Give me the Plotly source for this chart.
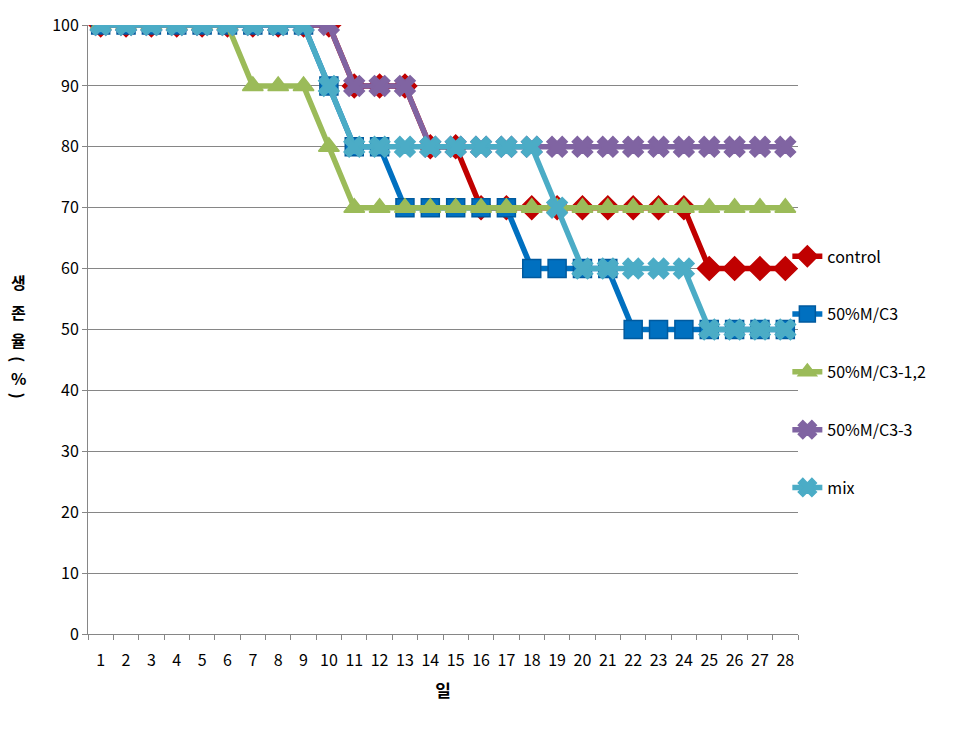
import plotly.graph_objects as go

days = [str(d) for d in range(1, 29)]
control = [100]*10 + [90]*3 + [80]*2 + [70]*9 + [60]*4
m_c3 = [100]*9 + [90] + [80]*2 + [70]*5 + [60]*4 + [50]*7
m_c3_12 = [100]*6 + [90]*3 + [80] + [70]*18
m_c3_3 = [100]*10 + [90]*3 + [80]*15
mix = [100]*9 + [90] + [80]*8 + [70] + [60]*5 + [50]*4

series = [
    ("control", control, "#C00000", "diamond", "#C00000"),
    ("50%M/C3", m_c3, "#0070C0", "square", "#005A9E"),
    ("50%M/C3-1,2", m_c3_12, "#9BBB59", "triangle-up", "#9BBB59"),
    ("50%M/C3-3", m_c3_3, "#8064A2", "x", "#8064A2"),
    ("mix", mix, "#4BACC6", "x", "#4BACC6"),
]

fig = go.Figure()
for i, (name, vals, col, sym, lcol) in enumerate(series):
    fig.add_trace(go.Scatter(
        x=days, y=vals, name=name, mode="lines+markers",
        line=dict(color=col, width=5.5),
        marker=dict(symbol=sym, size=18, color=col, line=dict(color=lcol, width=1.5)),
        legendgroup=f"g{i}",
    ))

font = "Noto Sans CJK KR, Malgun Gothic, sans-serif"
fig.update_layout(
    width=960, height=738,
    margin=dict(l=88, r=162, t=18, b=104),
    plot_bgcolor="white", paper_bgcolor="white",
    font=dict(family=font, size=16, color="black"),
    showlegend=True,
    legend=dict(x=0.985, xanchor="left", y=0.648, yanchor="top",
                tracegroupgap=34, font=dict(size=16, family=font),
                bgcolor="rgba(0,0,0,0)", itemwidth=30),
    xaxis=dict(type="category", showline=True, linecolor="#868686", linewidth=1,
               ticks="outside", ticklen=5, tickcolor="#868686", tickson="boundaries",
               showgrid=False, tickfont=dict(size=16), tickangle=0, range=[-0.5, 27.5],
               ticklabelstandoff=12,
               title=dict(text="<b>일</b>", font=dict(size=17), standoff=14)),
    yaxis=dict(range=[0, 100], dtick=10, showline=True, linecolor="#868686", linewidth=1,
               ticks="outside", ticklen=5, tickcolor="#868686",
               showgrid=True, gridcolor="#868686", gridwidth=1,
               tickfont=dict(size=16), zeroline=False),
)

title_chars = [("생", 278, 0), ("존", 308, 0), ("율", 337, 0), ("(", 356, 90), ("%", 375, 0), (")", 393, 90)]
for ch, py, ang in title_chars:
    fig.add_annotation(text=f"<b>{ch}</b>", xref="paper", yref="paper",
                       x=(18 - 88) / 710, y=1 - (py - 18) / 616, showarrow=False,
                       font=dict(size=16), textangle=ang, xanchor="center", yanchor="middle")
fig.write_html("out.html")
